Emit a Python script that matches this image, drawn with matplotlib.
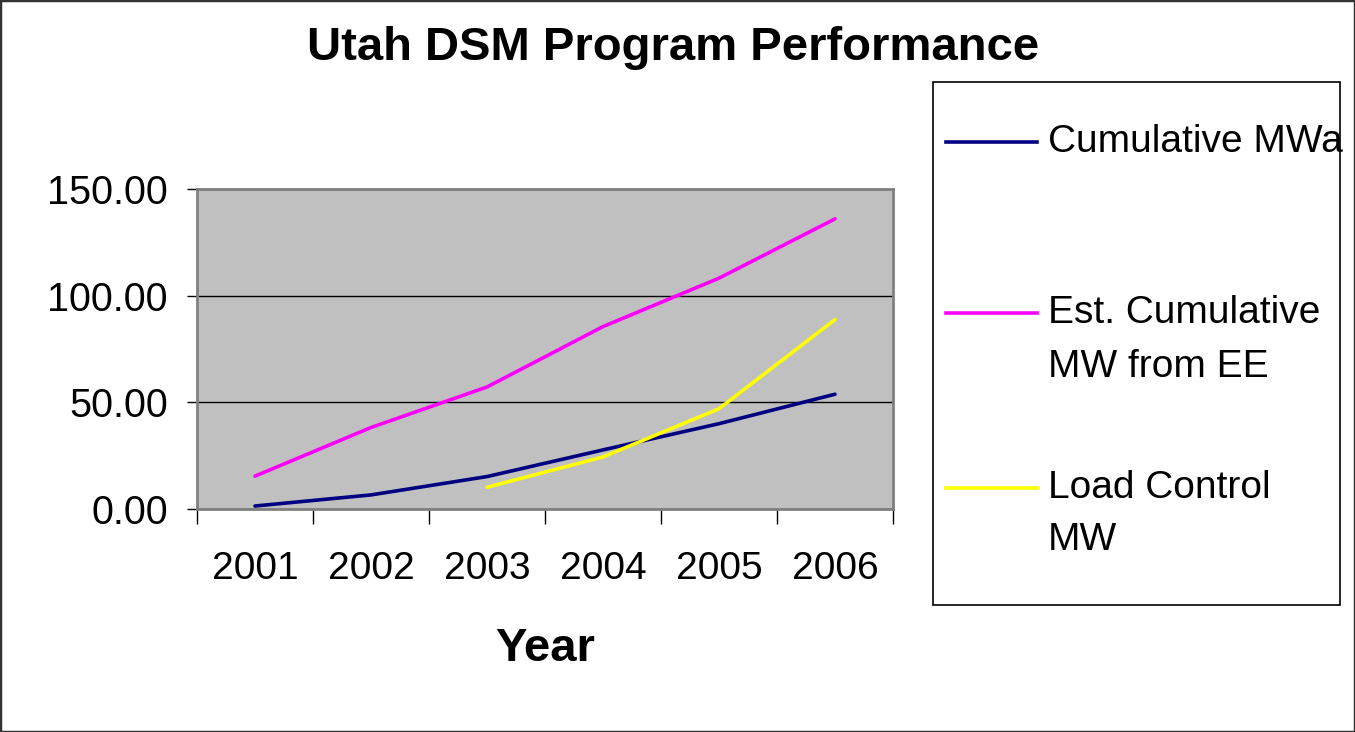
import matplotlib.pyplot as plt
from matplotlib.lines import Line2D
from matplotlib.patches import Rectangle
from matplotlib.ticker import FormatStrFormatter

plt.rcParams["font.family"] = ["Liberation Sans", "DejaVu Sans"]

# Data
years = ["2001", "2002", "2003", "2004", "2005", "2006"]
cumulative_mwa = [1.4, 6.6, 15.2, 27.7, 40.0, 53.8]
est_cumulative_ee = [15.4, 38.2, 57.2, 85.5, 108.2, 136.0]
load_control_years = ["2003", "2004", "2005", "2006"]
load_control_mw = [10.2, 24.4, 47.0, 88.8]

labels = ["Cumulative MWa", "Est. Cumulative\nMW from EE", "Load Control\nMW"]
colors = ["#000080", "#FF00FF", "#FFFF00"]

fig = plt.figure(figsize=(13.55, 7.32), dpi=100)
ax = fig.add_axes([197 / 1355, 1 - 509 / 732, 696 / 1355, 320 / 732])
ax.set_facecolor("#C0C0C0")

x_all = list(range(len(years)))
x_load = [years.index(y) for y in load_control_years]

ax.plot(x_all, cumulative_mwa, color=colors[0], lw=2.6, solid_capstyle="round", zorder=3)
ax.plot(x_all, est_cumulative_ee, color=colors[1], lw=2.6, solid_capstyle="round", zorder=3)
ax.plot(x_load, load_control_mw, color=colors[2], lw=2.6, solid_capstyle="round", zorder=3)

ax.set_xlim(-0.5, len(years) - 0.5)
ax.set_ylim(0, 150)
ax.set_yticks([0, 50, 100, 150])
ax.yaxis.set_major_formatter(FormatStrFormatter("%.2f"))
ax.yaxis.grid(True, color="black", lw=1.0, zorder=1)
ax.set_axisbelow(True)

# category labels at centres, tick marks at boundaries
ax.set_xticks(x_all)
ax.set_xticklabels(years)
ax.set_xticks([i - 0.5 for i in range(len(years) + 1)], minor=True)
ax.tick_params(axis="x", which="major", length=0, pad=30, labelsize=28)
ax.tick_params(axis="x", which="minor", length=11, width=1, color="black")
ax.tick_params(axis="y", length=7, width=1, pad=14, labelsize=28.5, color="black")

for s in ax.spines.values():
    s.set_color("#808080")
    s.set_linewidth(2)
    s.set_zorder(4)

ax.set_xlabel("Year", fontsize=34, fontweight="bold", labelpad=29)

fig.text(673 / 1355, 1 - 48 / 732, "Utah DSM Program Performance",
         fontsize=34, fontweight="bold", ha="center", va="center")

# legend box drawn by hand so handles line up with first text line
fig.patches.append(Rectangle((933 / 1355, 1 - 605 / 732), 407 / 1355, 523 / 732,
                             transform=fig.transFigure, fill=False,
                             edgecolor="black", lw=1.2))
entry_rows = [[142], [313, 367], [488, 540]]
for lab, col, rows in zip(labels, colors, entry_rows):
    y0 = 1 - rows[0] / 732
    fig.lines.append(Line2D([946 / 1355, 1037 / 1355], [y0, y0],
                            transform=fig.transFigure, color=col, lw=2.6))
    for line_txt, r in zip(lab.split("\n"), rows):
        fig.text(1048 / 1355, 1 - r / 732, line_txt, fontsize=28,
                 ha="left", va="center")

# outer chart border
fig.patches.append(Rectangle((0, 0), 1, 1, transform=fig.transFigure,
                             fill=False, edgecolor="#333333", lw=2.5))

plt.savefig("out.png", dpi=100)
